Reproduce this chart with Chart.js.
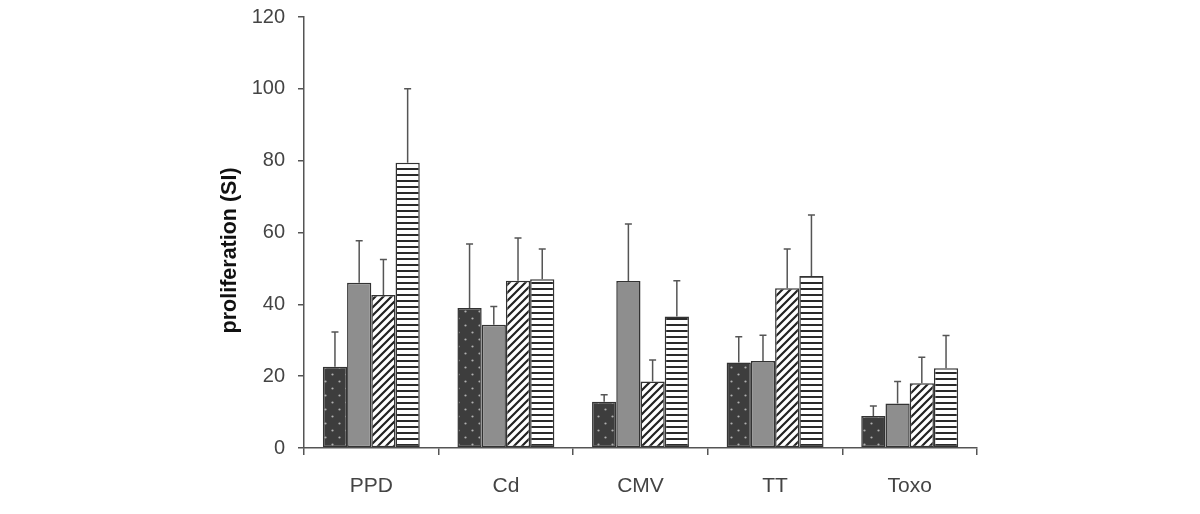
<!DOCTYPE html>
<html><head><meta charset="utf-8">
<script src="https://cdn.jsdelivr.net/npm/chart.js@4/dist/chart.umd.min.js"></script>
<style>html,body{margin:0;padding:0;background:#fff;}#wrap{width:1200px;height:514px;}</style>
</head><body><div id="wrap"><canvas id="c" width="1200" height="514"></canvas></div>
<script>
const categories = ['PPD', 'Cd', 'CMV', 'TT', 'Toxo'];
const dottedValues = [22.6, 39.0, 12.9, 23.8, 8.9];
const dottedErrors = [9.7, 17.8, 1.9, 7.2, 2.8];
const grayValues = [46.0, 34.3, 46.5, 24.2, 12.4];
const grayErrors = [11.7, 5.1, 15.9, 7.2, 6.1];
const hatchedValues = [42.6, 46.6, 18.5, 44.5, 18.0];
const hatchedErrors = [9.9, 11.9, 6.0, 10.9, 7.3];
const stripedValues = [79.4, 47.0, 36.6, 47.9, 22.2];
const stripedErrors = [20.6, 8.4, 10.0, 17.0, 9.1];
const yTicks = [0, 20, 40, 60, 80, 100, 120];

function makePattern(kind) {
  const t = document.createElement('canvas');
  const g = t.getContext('2d');
  if (kind === 'dots') {
    t.width = 14; t.height = 14;
    g.fillStyle = '#3d3d3d'; g.fillRect(0, 0, 14, 14);
    g.fillStyle = '#b0b0b0';
    g.beginPath(); g.arc(3.5, 3.5, 1.1, 0, Math.PI * 2); g.fill();
    g.beginPath(); g.arc(10.5, 10.5, 1.1, 0, Math.PI * 2); g.fill();
  } else if (kind === 'diag') {
    t.width = 8; t.height = 8;
    g.fillStyle = '#fff'; g.fillRect(0, 0, 8, 8);
    g.strokeStyle = '#222'; g.lineWidth = 2.2;
    g.beginPath();
    g.moveTo(-2, 10); g.lineTo(10, -2);
    g.moveTo(-6, 6); g.lineTo(6, -6);
    g.moveTo(2, 14); g.lineTo(14, 2);
    g.stroke();
  } else {
    t.width = 6; t.height = 6;
    g.fillStyle = '#fff'; g.fillRect(0, 0, 6, 6);
    g.fillStyle = '#2a2a2a'; g.fillRect(0, 0, 6, 2);
  }
  return document.getElementById('c').getContext('2d').createPattern(t, 'repeat');
}

const errorBars = {
  id: 'errorBars',
  afterDatasetsDraw(chart) {
    const ctx = chart.ctx;
    const y = chart.scales.y;
    ctx.save();
    ctx.strokeStyle = '#555';
    ctx.lineWidth = 1.5;
    chart.data.datasets.forEach((ds, i) => {
      const meta = chart.getDatasetMeta(i);
      meta.data.forEach((el, j) => {
        const top = y.getPixelForValue(ds.data[j] + ds.errors[j]);
        ctx.beginPath();
        ctx.moveTo(el.x, el.y);
        ctx.lineTo(el.x, top);
        ctx.moveTo(el.x - 3.5, top);
        ctx.lineTo(el.x + 3.5, top);
        ctx.stroke();
      });
    });
    ctx.restore();
  }
};

const common = { borderColor: '#333', borderWidth: 1.5, borderSkipped: false, categoryPercentage: 0.72, barPercentage: 1.0 };
const fam = 'Liberation Sans, Arial, sans-serif';

new Chart(document.getElementById('c'), {
  type: 'bar',
  data: {
    labels: categories,
    datasets: [
      Object.assign({ label: 'dotted', data: dottedValues, errors: dottedErrors, backgroundColor: makePattern('dots') }, common),
      Object.assign({ label: 'gray', data: grayValues, errors: grayErrors, backgroundColor: '#8e8e8e' }, common),
      Object.assign({ label: 'hatched', data: hatchedValues, errors: hatchedErrors, backgroundColor: makePattern('diag') }, common),
      Object.assign({ label: 'striped', data: stripedValues, errors: stripedErrors, backgroundColor: makePattern('horiz') }, common)
    ]
  },
  options: {
    responsive: false,
    animation: false,
    layout: { padding: { left: 217, right: 223, top: 17, bottom: 10 } },
    plugins: { legend: { display: false }, tooltip: { enabled: false } },
    scales: {
      x: {
        grid: { display: true, offset: true, drawOnChartArea: false, tickLength: 7, color: '#555', lineWidth: 1.5 },
        border: { display: true, color: '#555', width: 1.5 },
        ticks: { color: '#444', font: { family: fam, size: 21 }, padding: 19 },
        afterFit(s) { s.height = 56; s.paddingLeft = 0; s.paddingRight = 0; }
      },
      y: {
        min: 0, max: 120,
        afterBuildTicks(s) { s.ticks = yTicks.map(v => ({ value: v })); },
        grid: { display: true, drawOnChartArea: false, tickLength: 6, color: '#555', lineWidth: 1.5 },
        border: { display: true, color: '#555', width: 1.5 },
        ticks: { color: '#444', font: { family: fam, size: 20 }, padding: 13 },
        title: { display: true, text: 'proliferation (SI)      ', color: '#111', font: { family: fam, size: 21.5, weight: 'bold' }, padding: 0 },
        afterFit(s) { s.width = 87; s.paddingTop = 0; s.paddingBottom = 0; }
      }
    }
  },
  plugins: [errorBars]
});
</script>
</body></html>
